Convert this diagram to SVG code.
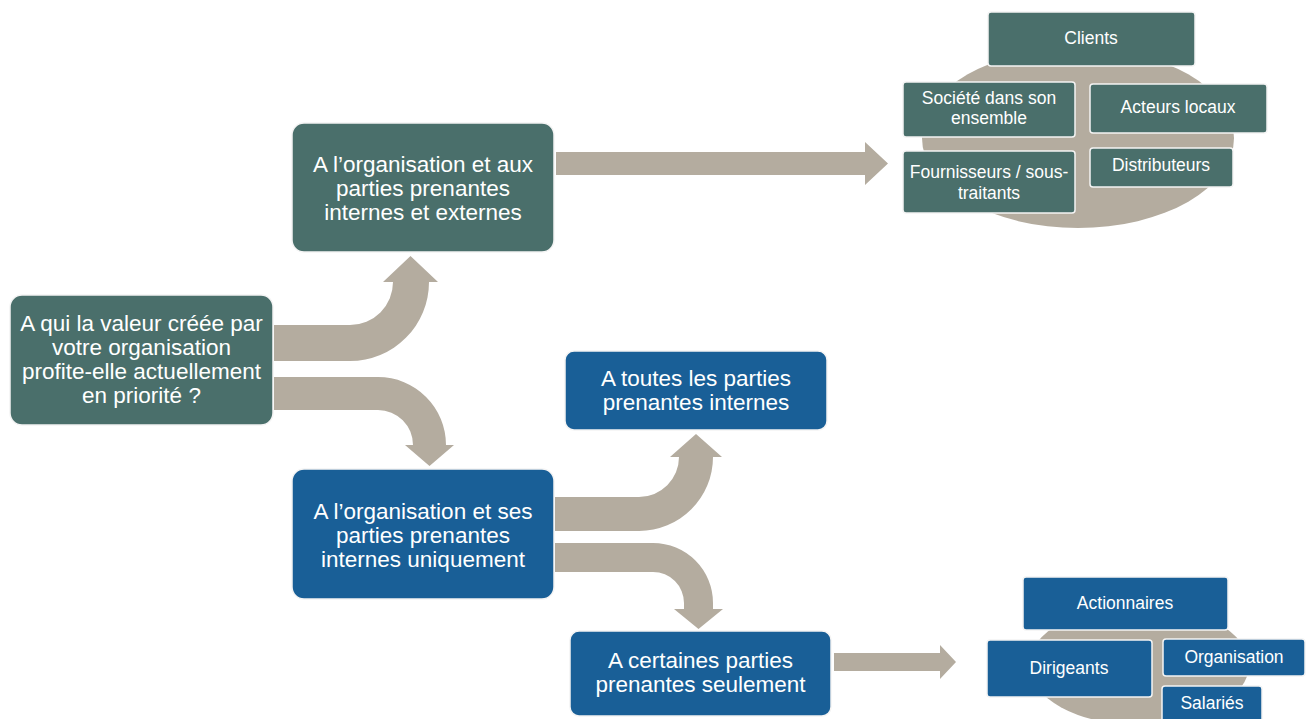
<svg xmlns="http://www.w3.org/2000/svg" width="1309" height="719" viewBox="0 0 1309 719">
<style>
.teal{fill:#4A6F6B;stroke:#F4F4F4;stroke-width:1.5}
.blue{fill:#195F97;stroke:#F4F4F4;stroke-width:1.5}
.arr{fill:#B4AC9F}
.big{font-family:"Liberation Sans",Arial,sans-serif;font-size:22.5px;fill:#FFFFFF;text-anchor:middle}
.sm{font-family:"Liberation Sans",Arial,sans-serif;font-size:17.5px;fill:#FFFFFF;text-anchor:middle}
.bg{fill:#B4AC9F}
</style>
<rect width="1309" height="719" fill="#FFFFFF"/>
<g id="connectors">
<path class="arr" d="M274,325 L350,325 A43,43 0 0 0 393,282 L383,282 L410.5,256 L438,282 L429,282 A79,79 0 0 1 350,361 L274,361 Z"/>
<path class="arr" d="M274,377 L378,377 A68,68 0 0 1 446,445 L454,445 L429.5,466 L405,445 L413,445 A35,35 0 0 0 378,410 L274,410 Z"/>
<path class="arr" d="M555,497 L639,497 A40,40 0 0 0 679,457 L670,457 L696,434 L722,457 L713,457 A74,74 0 0 1 639,531 L555,531 Z"/>
<path class="arr" d="M555,543 L653,543 A60,60 0 0 1 713,603 L713,609 L723,609 L698.5,629 L674,609 L684,609 L684,603 A31,31 0 0 0 653,572 L555,572 Z"/>
<path class="arr" d="M556,152 L865,152 L865,142 L888,163.5 L865,185 L865,175 L556,175 Z"/>
<path class="arr" d="M834,653 L940,653 L940,645 L956,662 L940,679 L940,671 L834,671 Z"/>
</g>
<g id="node-question">
<rect class="teal" x="10" y="295" width="263" height="130" rx="12"/>
<text class="big" x="141.5" y="331">A qui la valeur créée par</text>
<text class="big" x="141.5" y="355">votre organisation</text>
<text class="big" x="141.5" y="379">profite-elle actuellement</text>
<text class="big" x="141.5" y="403">en priorité ?</text>
</g>
<g id="node-externes">
<rect class="teal" x="292" y="123" width="262" height="129" rx="12"/>
<text class="big" x="423" y="172">A l’organisation et aux</text>
<text class="big" x="423" y="196">parties prenantes</text>
<text class="big" x="423" y="220">internes et externes</text>
</g>
<g id="node-internes">
<rect class="blue" x="292" y="469" width="262" height="130" rx="12"/>
<text class="big" x="423" y="519">A l’organisation et ses</text>
<text class="big" x="423" y="543">parties prenantes</text>
<text class="big" x="423" y="567">internes uniquement</text>
</g>
<g id="node-toutes">
<rect class="blue" x="565" y="351" width="262" height="79" rx="9"/>
<text class="big" x="696" y="386">A toutes les parties</text>
<text class="big" x="696" y="410">prenantes internes</text>
</g>
<g id="node-certaines">
<rect class="blue" x="570" y="631" width="261" height="85" rx="9"/>
<text class="big" x="700.5" y="668">A certaines parties</text>
<text class="big" x="700.5" y="692">prenantes seulement</text>
</g>
<g id="group-externes">
<ellipse class="bg" cx="1078" cy="138" rx="156" ry="90"/>
<g id="node-clients">
<rect class="teal" x="988" y="12" width="207" height="54" rx="3"/>
<text class="sm" x="1091" y="44">Clients</text>
</g>
<g id="node-societe">
<rect class="teal" x="903" y="82" width="172" height="55" rx="3"/>
<text class="sm" x="989" y="104">Société dans son</text>
<text class="sm" x="989" y="124">ensemble</text>
</g>
<g id="node-acteurs">
<rect class="teal" x="1090" y="84" width="177" height="49" rx="3"/>
<text class="sm" x="1178" y="113">Acteurs locaux</text>
</g>
<g id="node-fournisseurs">
<rect class="teal" x="903" y="151" width="172" height="62" rx="3"/>
<text class="sm" x="989" y="178">Fournisseurs / sous-</text>
<text class="sm" x="989" y="199">traitants</text>
</g>
<g id="node-distributeurs">
<rect class="teal" x="1090" y="148" width="143" height="39" rx="3"/>
<text class="sm" x="1161" y="171">Distributeurs</text>
</g>
</g>
<g id="group-internes">
<ellipse class="bg" cx="1139" cy="665" rx="110" ry="60"/>
<g id="node-actionnaires">
<rect class="blue" x="1023" y="577" width="205" height="53" rx="3"/>
<text class="sm" x="1125" y="609">Actionnaires</text>
</g>
<g id="node-dirigeants">
<rect class="blue" x="987" y="640" width="165" height="57" rx="3"/>
<text class="sm" x="1069" y="674">Dirigeants</text>
</g>
<g id="node-organisation">
<rect class="blue" x="1163" y="639" width="142" height="37" rx="3"/>
<text class="sm" x="1234" y="663">Organisation</text>
</g>
<g id="node-salaries">
<rect class="blue" x="1162" y="686" width="100" height="40" rx="3"/>
<text class="sm" x="1212" y="709">Salariés</text>
</g>
</g>
</svg>
